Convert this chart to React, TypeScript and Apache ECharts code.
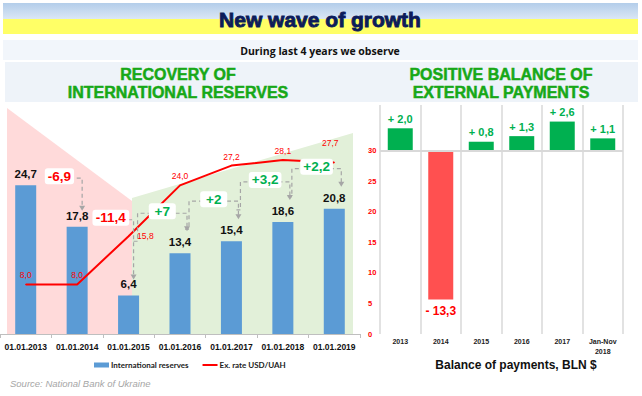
import React, { useEffect, useRef } from 'react';
import * as echarts from 'echarts';

const reserveDates = ['01.01.2013', '01.01.2014', '01.01.2015', '01.01.2016', '01.01.2017', '01.01.2018', '01.01.2019'];
const reserves = [24.7, 17.8, 6.4, 13.4, 15.4, 18.6, 20.8];
const exRate = [8.0, 8.0, 15.8, 24.0, 27.2, 28.1, 27.7];
const reserveChanges = [-6.9, -11.4, 7, 2, 3.2, 2.2];
const bopYears = ['2013', '2014', '2015', '2016', '2017', 'Jan-Nov\n2018'];
const bopBalance = [2.0, -13.3, 0.8, 1.3, 2.6, 1.1];
const bopAxisMaxLabel = 30;

const FONT = '"Liberation Sans", Arial, sans-serif';
const fmt1 = (v: number) => Math.abs(v).toFixed(1).replace('.', ',');
const fmtChange = (v: number) => (v > 0 ? '+' : '-') + (Number.isInteger(v) ? String(Math.abs(v)) : fmt1(v));
const charEm: Record<string, number> = { '+': 0.584, '-': 0.333, ',': 0.278 };
const textEm = (s: string) => s.split('').reduce((a, ch) => a + (charEm[ch] ?? 0.556), 0);

export default function App() {
  const ref = useRef<HTMLDivElement>(null);
  useEffect(() => {
    if (!ref.current) return;
    const chart = echarts.init(ref.current, undefined, { renderer: 'svg' });
    const option: any = {
      animation: false,
      textStyle: { fontFamily: FONT },
      graphic: [
        {
          type: 'rect', z: -10, shape: { x: 3, y: 3, width: 635, height: 16 },
          style: { fill: new echarts.graphic.LinearGradient(0, 0, 0, 1, [{ offset: 0, color: '#b3cdea' }, { offset: 1, color: '#dbe7f5' }]) },
        },
        { type: 'rect', z: -10, shape: { x: 3, y: 19, width: 635, height: 15 }, style: { fill: '#ffff66' } },
        {
          type: 'text', z: -5, x: 320, y: 19,
          style: { text: 'New wave of growth', fill: '#0c1c5a', stroke: '#0c1c5a', lineWidth: 0.9, fontSize: 21, fontWeight: 'bold', fontFamily: FONT, align: 'center', verticalAlign: 'middle' },
        },
        { type: 'rect', z: -10, shape: { x: 3, y: 40, width: 635, height: 20 }, style: { fill: '#f2f6fb' } },
        {
          type: 'text', z: -5, x: 320, y: 51,
          style: { text: 'During last 4 years we observe', fill: '#111', fontSize: 10.5, fontWeight: 'bold', fontFamily: '"Open Sans", sans-serif', align: 'center', verticalAlign: 'middle' },
        },
        { type: 'rect', z: -10, shape: { x: 5, y: 62, width: 633, height: 40 }, style: { fill: '#eef3f9' } },
        {
          type: 'text', z: -5, x: 178, y: 83,
          style: { text: 'RECOVERY OF\nINTERNATIONAL RESERVES', fill: '#17a817', stroke: '#17a817', lineWidth: 0.5, fontSize: 16, fontWeight: 'bold', lineHeight: 18, fontFamily: FONT, align: 'center', verticalAlign: 'middle' },
        },
        {
          type: 'text', z: -5, x: 501, y: 83,
          style: { text: 'POSITIVE BALANCE OF\nEXTERNAL PAYMENTS', fill: '#17a817', stroke: '#17a817', lineWidth: 0.5, fontSize: 16, fontWeight: 'bold', lineHeight: 18, fontFamily: FONT, align: 'center', verticalAlign: 'middle' },
        },
        { type: 'polygon', z: -10, shape: { points: [[7, 108], [132, 201], [132, 334], [7, 334]] }, style: { fill: '#ffdada' } },
        { type: 'polygon', z: -10, shape: { points: [[132, 198], [353, 133], [353, 334], [132, 334]] }, style: { fill: '#e2f0d9' } },
        {
          type: 'text', z: -5, x: 516, y: 365,
          style: { text: 'Balance of payments, BLN $', fill: '#111', fontSize: 12, fontWeight: 'bold', fontFamily: FONT, align: 'center', verticalAlign: 'middle' },
        },
        {
          type: 'text', z: -5, x: 10, y: 383,
          style: { text: 'Source: National Bank of Ukraine', fill: '#a6a6a6', fontSize: 9.5, fontStyle: 'italic', fontFamily: FONT, align: 'left', verticalAlign: 'middle' },
        },
      ],
      legend: {
        left: 89, top: 356, itemWidth: 15, itemHeight: 5, itemGap: 13,
        textStyle: { fontSize: 8, fontWeight: 'bold', color: '#222', fontFamily: 'Lato, sans-serif', padding: [0, 0, 0, -3] },
        data: [
          { name: 'International reserves', icon: 'rect' },
          { name: 'Ex. rate USD/UAH', itemStyle: { opacity: 0 } },
        ],
      },
      grid: [
        { left: 0, top: 108, width: 360, height: 226 },
        { left: 380, top: 105, width: 243, height: 229 },
      ],
      xAxis: [
        {
          type: 'category', gridIndex: 0, data: reserveDates,
          axisLine: { lineStyle: { color: '#bfbfbf', width: 1 } },
          axisTick: { show: true, length: 4, lineStyle: { color: '#bfbfbf' } },
          axisLabel: { fontSize: 8.5, fontWeight: 'bold', color: '#111', margin: 8, interval: 0 },
        },
        {
          type: 'category', gridIndex: 1, data: bopYears,
          axisLine: { show: false }, axisTick: { show: false },
          splitLine: { show: true, interval: 0, lineStyle: { color: '#d9d9d9', width: 1.5 } },
          axisLabel: { fontSize: 7, fontWeight: 'bold', color: '#222', margin: 2, lineHeight: 10, interval: 0 },
        },
      ],
      yAxis: [
        { type: 'value', gridIndex: 0, min: 0, max: 37.5, show: false },
        { type: 'value', gridIndex: 0, min: 0, max: 36.5, show: false },
        {
          type: 'value', gridIndex: 1, min: 0, max: 37.5, interval: 5, position: 'left',
          axisLine: { show: false }, axisTick: { show: false }, splitLine: { show: false },
          axisLabel: {
            color: '#ff0000', fontSize: 7.5, fontWeight: 'bold', align: 'left', margin: 12,
            formatter: (v: number) => (v > bopAxisMaxLabel ? '' : String(v)),
          },
        },
        { type: 'value', gridIndex: 1, min: -16.37, max: 4.08, show: false },
      ],
      series: [
        {
          name: 'International reserves', type: 'bar', xAxisIndex: 0, yAxisIndex: 0,
          data: reserves, barWidth: 21, itemStyle: { color: '#5b9bd5' },
          label: {
            show: true, position: 'top', distance: 5, fontSize: 11.5, fontWeight: 'bold', color: '#111',
            formatter: (p: any) => fmt1(p.value),
          },
          z: 2,
        },
        {
          name: 'Ex. rate USD/UAH', type: 'line', xAxisIndex: 0, yAxisIndex: 1,
          data: exRate.map((v, i) => {
            if (i === 2) return { value: v, label: { position: 'right', distance: 8 } };
            if (i === exRate.length - 1) return { value: v, label: { offset: [-4, -10] } };
            return v;
          }),
          symbol: 'circle', symbolSize: 1,
          lineStyle: { color: '#ff0000', width: 2 }, itemStyle: { color: '#ff0000' },
          label: { show: true, position: 'top', distance: 4, fontSize: 8.5, color: '#ff0000', formatter: (p: any) => fmt1(p.value) },
          z: 3,
        },
        {
          name: 'changes', type: 'custom', xAxisIndex: 0, yAxisIndex: 0, silent: true, z: 5,
          data: reserveChanges.map((c, i) => [i, c]),
          renderItem: (params: any, api: any) => {
            const i = api.value(0) as number;
            const ch = api.value(1) as number;
            const p0 = api.coord([i, reserves[i]]);
            const p1 = api.coord([i + 1, reserves[i + 1]]);
            const c0 = p0[0], t0 = p0[1], c1 = p1[0], t1 = p1[1];
            let pts: number[][];
            let bx: number, by: number, tipX: number, tipY: number;
            if (ch < 0) {
              const lvl = t0 - 7;
              tipX = c1 + 5; tipY = t1 - 16;
              pts = [[c0 + 23, lvl], [tipX, lvl], [tipX, tipY - 4]];
              bx = (c0 + c1) / 2 + 8; by = lvl - 2;
            } else {
              const lvl = t1 - 40;
              const lx = c0 + 9;
              tipX = c1 + 7; tipY = t1 - 22;
              pts = [[c0 + 5, lvl + 28], [lx, lvl + 28], [lx, lvl], [tipX, lvl], [tipX, tipY - 4]];
              bx = (lx + tipX) / 2; by = lvl - 2;
            }
            const text = fmtChange(ch);
            const w = Math.max(27, textEm(text) * 13.5 + 6);
            return {
              type: 'group',
              children: [
                { type: 'polyline', shape: { points: pts }, style: { stroke: '#a6a6a6', lineWidth: 1.2, lineDash: [4, 3], fill: null } },
                { type: 'polygon', shape: { points: [[tipX - 3, tipY - 5], [tipX + 3, tipY - 5], [tipX, tipY]] }, style: { fill: '#a6a6a6' } },
                { type: 'rect', shape: { x: bx - w / 2, y: by - 8, width: w, height: 16, r: 3 }, style: { fill: '#ffffff' } },
                {
                  type: 'text', x: bx, y: by,
                  style: { text, fill: ch < 0 ? '#ff0000' : '#00b050', fontSize: 13.5, fontWeight: 'bold', fontFamily: FONT, align: 'center', verticalAlign: 'middle' },
                },
              ],
            };
          },
        },
        {
          name: 'Balance of payments', type: 'bar', xAxisIndex: 1, yAxisIndex: 3, barWidth: 25,
          data: bopBalance.map((v) => ({
            value: v,
            itemStyle: { color: v >= 0 ? '#00b050' : '#ff5050' },
            label: v >= 0
              ? { position: 'top', distance: 4, color: '#00b050', fontSize: 11 }
              : { position: 'bottom', distance: 5, color: '#ff0000', fontSize: 12 },
          })),
          label: {
            show: true, fontWeight: 'bold',
            formatter: (p: any) => (p.value >= 0 ? '+ ' : '- ') + fmt1(p.value),
          },
          markLine: {
            silent: true, symbol: 'none', label: { show: false },
            lineStyle: { color: '#d9d9d9', width: 2, type: 'solid' },
            data: [{ yAxis: 0 }],
          },
        },
      ],
    };
    chart.setOption(option);
    return () => chart.dispose();
  }, []);
  return <div ref={ref} style={{ position: 'absolute', left: 0, top: 0, width: 642, height: 396 }} />;
}
